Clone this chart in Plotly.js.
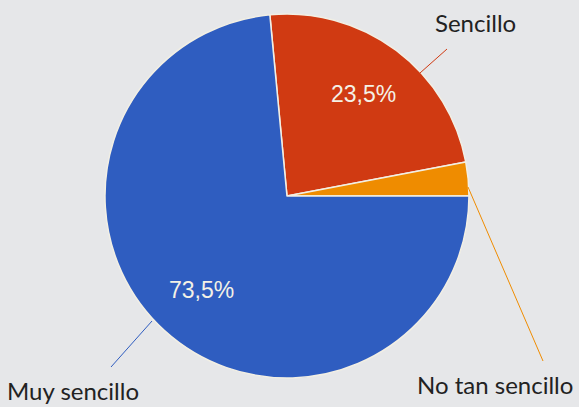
<!DOCTYPE html>
<html>
<head>
<meta charset="utf-8">
<script src="https://cdn.plot.ly/plotly-3.0.1.min.js"></script>
<style>html,body{margin:0;padding:0;background:#e6e7e9;}#chart{width:579px;height:407px;}</style>
</head>
<body>
<div id="chart"></div>
<script>
const categories = ['Sencillo', 'No tan sencillo', 'Muy sencillo'];
const values = [23.5, 3.0, 73.5];
const colors = ['#d03a12', '#ef8c00', '#2f5dc0'];
const showPct = [true, false, true];

const W = 579, H = 407;
function px(x) { return x / W; }
function py(y) { return 1 - y / H; }

const domX = [0.1813, 0.8100], domY = [0.0713, 0.9656];
const total = values.reduce((a, b) => a + b, 0);
// first slice starts so that the last slice ends at 3 o'clock
const rotation = 90 - 360 * (values[0] + values[1]) / total;

// outside label placement (pixels) and leader lines
const labelPos = [[475, 23], [495, 384], [73, 390]];
const leaders = [[[420, 73], [447, 49]], [[468, 187], [543, 361]], [[152, 321], [111, 367]]];

const trace = {
  type: 'pie',
  labels: categories,
  values: values,
  sort: false,
  direction: 'clockwise',
  rotation: rotation,
  marker: { colors: colors, line: { color: '#f2efe4', width: 1.5 } },
  textinfo: 'none',
  hoverinfo: 'none',
  domain: { x: domX, y: domY },
  showlegend: false
};

// percentage labels at 0.7 r along each slice's mid-angle
const cxPx = (domX[0] + domX[1]) / 2 * W;
const cyPx = (1 - (domY[0] + domY[1]) / 2) * H;
const rPx = Math.min((domX[1] - domX[0]) * W, (domY[1] - domY[0]) * H) / 2;
const pctAnn = [];
let acc = 0;
values.forEach((v, i) => {
  const mid = (rotation + 360 * (acc + v / 2) / total) * Math.PI / 180;
  acc += v;
  if (!showPct[i]) return;
  const x = cxPx + 0.7 * rPx * Math.sin(mid);
  const y = cyPx - 0.7 * rPx * Math.cos(mid);
  pctAnn.push({
    xref: 'paper', yref: 'paper', x: px(x), y: py(y),
    xanchor: 'center', yanchor: 'middle', showarrow: false,
    text: (v / total * 100).toFixed(1).replace('.', ',') + '%',
    font: { family: 'Liberation Sans, Arial, sans-serif', size: 23, color: '#f4f1e6' }
  });
});

const annotations = categories.map((c, i) => ({
  xref: 'paper', yref: 'paper',
  x: px(labelPos[i][0]), y: py(labelPos[i][1]),
  xanchor: 'center', yanchor: 'middle',
  text: c, showarrow: false,
  font: { family: 'Lato, Liberation Sans, sans-serif', size: 24, color: '#222222' }
})).concat(pctAnn);

const shapes = leaders.map((l, i) => ({
  type: 'line', xref: 'paper', yref: 'paper',
  x0: px(l[0][0]), y0: py(l[0][1]), x1: px(l[1][0]), y1: py(l[1][1]),
  line: { color: colors[i], width: 1 }
}));

Plotly.newPlot('chart', [trace], {
  width: W, height: H,
  margin: { l: 0, r: 0, t: 0, b: 0 },
  paper_bgcolor: '#e6e7e9',
  plot_bgcolor: '#e6e7e9',
  separators: ',.',
  annotations: annotations,
  shapes: shapes
}, { staticPlot: true });
</script>
</body>
</html>
